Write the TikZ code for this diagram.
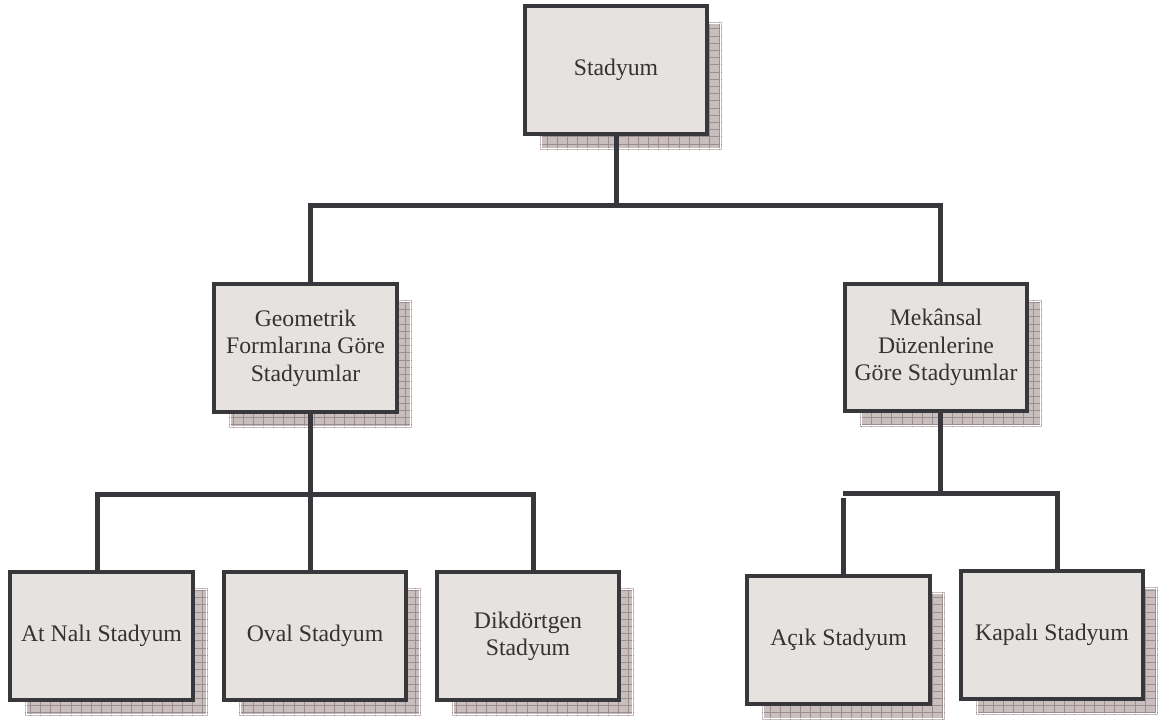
\documentclass[tikz,border=0pt]{standalone}
\usepackage{fontspec}
\setmainfont{Liberation Serif}
\usetikzlibrary{backgrounds,calc}
\definecolor{linec}{HTML}{38373C}
\definecolor{boxf}{HTML}{E6E2E0}
\definecolor{shf}{HTML}{C9BFBF}
\definecolor{shg}{HTML}{9C8E8F}
\definecolor{txt}{HTML}{333333}
\newcommand\boxshadow[1]{%
  \fill[shf] ($(#1.north west)+(15,16)$) rectangle ($(#1.south east)+(15,16)$);
  \draw[shg, line width=0.5pt, xstep=7.6pt, ystep=5.4pt] ($(#1.north west)+(15,16)$) grid ($(#1.south east)+(15,16)$);
  \draw[white, line width=0.6pt] ($(#1.north west)+(16.5,17.5)$) rectangle ($(#1.south east)+(13.5,14.5)$);
}
\begin{document}
\begin{tikzpicture}[x=0.75pt,y=-0.75pt,
  box/.style={draw=linec, line width=3pt, fill=boxf, minimum width=137pt, minimum height=95.5pt,
    align=center, font=\fontsize{17.8}{20.5}\selectfont, text=txt, inner sep=2pt, outer sep=0pt},
  conn/.style={draw=linec, line width=3.75pt, line join=miter}]
\useasboundingbox (0,0) rectangle (1160,722);

\node[box] (st)   at (616,70)    {Stadyum};
\node[box] (geo)  at (305.5,348) {Geometrik\\Formlarına Göre\\Stadyumlar};
\node[box] (mek)  at (936,347.5) {Mekânsal\\Düzenlerine\\Göre Stadyumlar};
\node[box] (atn)  at (101.5,636) {At Nalı Stadyum};
\node[box] (ova)  at (315,636)   {Oval Stadyum};
\node[box] (dik)  at (528,636)   {Dikdörtgen\\Stadyum};
\node[box] (acik) at (838.5,640) {Açık Stadyum};
\node[box] (kap)  at (1052,635)  {Kapalı Stadyum};

\begin{scope}[on background layer]
  \fill[white] (0,0) rectangle (1160,722);
  \boxshadow{st}\boxshadow{geo}\boxshadow{mek}\boxshadow{atn}
  \boxshadow{ova}\boxshadow{dik}\boxshadow{acik}\boxshadow{kap}
\end{scope}

% junction coordinates
\coordinate (j1) at (616,205);
\coordinate (g1) at (310,205);
\coordinate (m1) at (940,205);
\coordinate (j2) at (310,494);
\coordinate (a2) at (97,494);
\coordinate (d2) at (533,494);
\coordinate (j3) at (940,493);
\coordinate (k3) at (1057,493);
\coordinate (c3) at (843,493);
\coordinate (c3b) at (843,498);

\draw[conn] (st.south) -- (j1);
\draw[conn] (g1 |- geo.north) -- (g1) -- (m1) -- (m1 |- mek.north);
\draw[conn] (j2 |- geo.south) -- (j2) -- (j2 |- ova.north);
\draw[conn] (a2 |- atn.north) -- (a2) -- (d2) -- (d2 |- dik.north);
\draw[conn] (j3 |- mek.south) -- (j3);
\draw[conn] (c3) -- (k3) -- (k3 |- kap.north);
\draw[conn] (c3b) -- (c3b |- acik.north);
\end{tikzpicture}
\end{document}
